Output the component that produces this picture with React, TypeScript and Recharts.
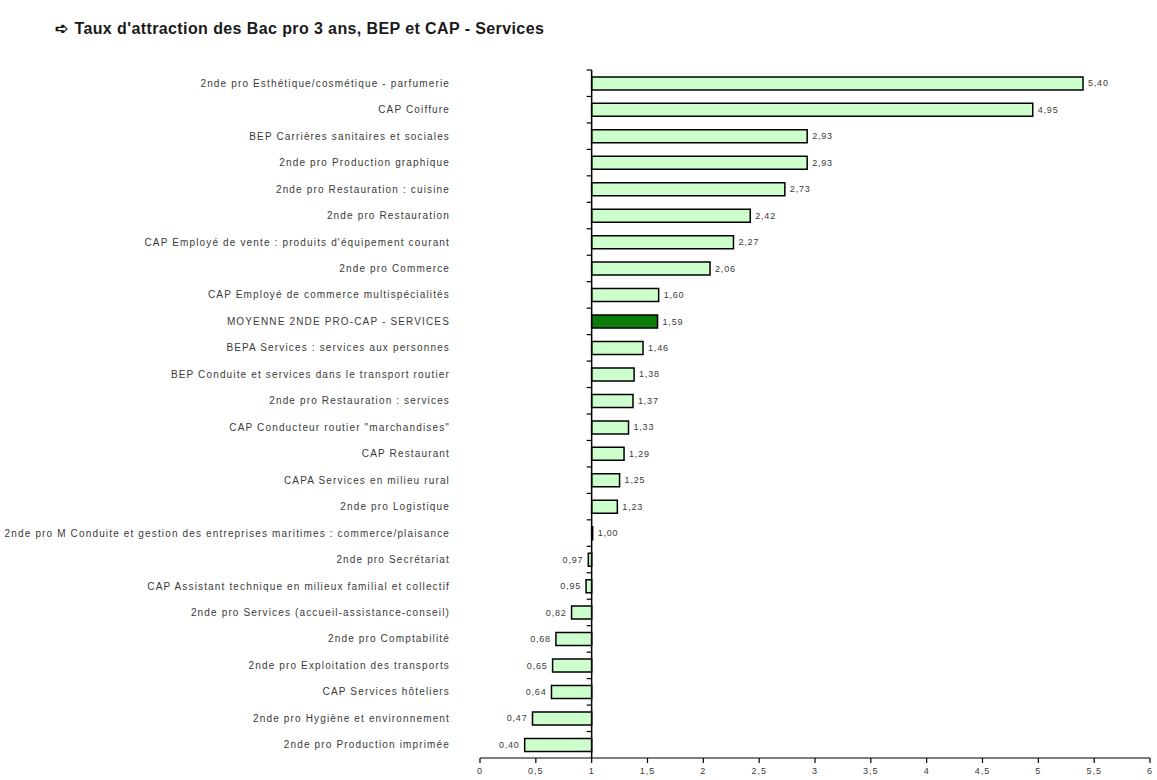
import React from "react";
import {
  Bar,
  BarChart,
  Cell,
  LabelList,
  ReferenceLine,
  XAxis,
  YAxis,
} from "recharts";

const categories = [
  "2nde pro Esthétique/cosmétique - parfumerie",
  "CAP Coiffure",
  "BEP Carrières sanitaires et sociales",
  "2nde pro Production graphique",
  "2nde pro Restauration : cuisine",
  "2nde pro Restauration",
  "CAP Employé de vente : produits d'équipement courant",
  "2nde pro Commerce",
  "CAP Employé de commerce multispécialités",
  "MOYENNE 2NDE PRO-CAP - SERVICES",
  "BEPA Services : services aux personnes",
  "BEP Conduite et services dans le transport routier",
  "2nde pro Restauration : services",
  "CAP Conducteur routier \"marchandises\"",
  "CAP Restaurant",
  "CAPA Services en milieu rural",
  "2nde pro Logistique",
  "2nde pro M Conduite et gestion des entreprises maritimes : commerce/plaisance",
  "2nde pro Secrétariat",
  "CAP Assistant technique en milieux familial et collectif",
  "2nde pro Services (accueil-assistance-conseil)",
  "2nde pro Comptabilité",
  "2nde pro Exploitation des transports",
  "CAP Services hôteliers",
  "2nde pro Hygiène et environnement",
  "2nde pro Production imprimée",
];

const values = [
  5.4, 4.95, 2.93, 2.93, 2.73, 2.42, 2.27, 2.06, 1.6, 1.59, 1.46, 1.38, 1.37,
  1.33, 1.29, 1.25, 1.23, 1.0, 0.97, 0.95, 0.82, 0.68, 0.65, 0.64, 0.47, 0.4,
];

const averageLabel = "MOYENNE 2NDE PRO-CAP - SERVICES";
const baseline = 1;
const xTicks = [0, 0.5, 1, 1.5, 2, 2.5, 3, 3.5, 4, 4.5, 5, 5.5, 6];

const W = 1157;
const H = 780;
const margin = { top: 70, right: 7, bottom: 4, left: 0 };
const yAxisWidth = 480;
const xAxisHeight = 18;
const plotLeft = margin.left + yAxisWidth;
const plotWidth = W - plotLeft - margin.right;
const plotHeight = H - margin.top - margin.bottom - xAxisHeight;
const band = plotHeight / categories.length;
const xOne = plotLeft + (plotWidth * baseline) / 6;

// bars start at the baseline (1) and run to the value
const data = categories.map((name, i) => ({
  name,
  value: values[i],
  range: [Math.min(baseline, values[i]), Math.max(baseline, values[i])],
}));

const fmt = (v: number) => String(v).replace(".", ",");
const FONT = "Liberation Sans, Arial, sans-serif";

const CategoryTick = ({ y, payload }: any) => (
  <g>
    <text
      x={450}
      y={y}
      dy={3.5}
      textAnchor="end"
      fontSize={10}
      letterSpacing={1.15}
      fill="#3a3a3a"
      fontFamily={FONT}
    >
      {payload.value}
    </text>
    <line
      x1={xOne - 5}
      x2={xOne}
      y1={y - band / 2}
      y2={y - band / 2}
      stroke="#000"
      strokeWidth={1.2}
    />
  </g>
);

const XTick = ({ x, y, payload }: any) => (
  <text
    x={x}
    y={y}
    dy={9}
    textAnchor="middle"
    fontSize={9}
    letterSpacing={1}
    fill="#3a3a3a"
    fontFamily={FONT}
  >
    {fmt(payload.value)}
  </text>
);

const ValueLabel = ({ x, y, width, height, value }: any) => {
  const v = Number(value);
  const above = v >= baseline;
  return (
    <text
      x={above ? x + width + 5 : x - 5}
      y={y + height / 2}
      dy={3}
      textAnchor={above ? "start" : "end"}
      fontSize={9}
      letterSpacing={0.8}
      fill="#3a3a3a"
      fontFamily={FONT}
    >
      {v.toFixed(2).replace(".", ",")}
    </text>
  );
};

export default function App() {
  return (
    <div
      style={{
        position: "absolute",
        left: 0,
        top: 0,
        width: W,
        height: H,
        background: "#fff",
        fontFamily: FONT,
      }}
    >
      <div
        style={{
          position: "absolute",
          left: 55,
          top: 19,
          fontSize: 16,
          letterSpacing: 0.4,
          fontWeight: "bold",
          color: "#1a1a1a",
          whiteSpace: "nowrap",
        }}
      >
        <span style={{ marginRight: 6 }}>➪</span>
        Taux d'attraction des Bac pro 3 ans, BEP et CAP - Services
      </div>
      <BarChart
        width={W}
        height={H}
        data={data}
        layout="vertical"
        margin={margin}
        barCategoryGap="26%"
      >
        <XAxis
          type="number"
          domain={[0, 6]}
          ticks={xTicks}
          interval={0}
          height={xAxisHeight}
          axisLine={{ stroke: "#000", strokeWidth: 1.2 }}
          tickLine={{ stroke: "#000", strokeWidth: 1.2 }}
          tickSize={5}
          tick={<XTick />}
        />
        <YAxis
          type="category"
          dataKey="name"
          width={yAxisWidth}
          interval={0}
          axisLine={false}
          tickLine={false}
          tick={<CategoryTick />}
        />
        <Bar
          dataKey="range"
          fill="#ccffcc"
          stroke="#000"
          strokeWidth={1.5}
          minPointSize={1}
          isAnimationActive={false}
        >
          {data.map((d) => (
            <Cell
              key={d.name}
              fill={d.name === averageLabel ? "#0a7d0a" : "#ccffcc"}
            />
          ))}
          <LabelList dataKey="value" content={<ValueLabel />} />
        </Bar>
        <ReferenceLine x={baseline} stroke="#000" strokeWidth={1.5} />
      </BarChart>
    </div>
  );
}
